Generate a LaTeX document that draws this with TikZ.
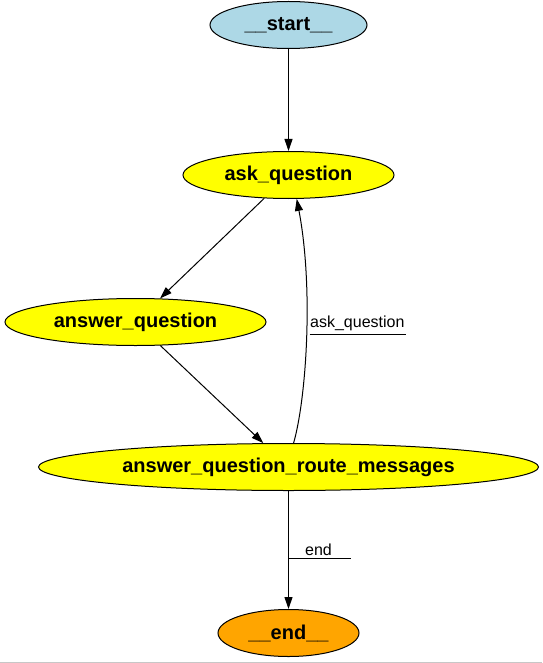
\documentclass[tikz,border=0pt]{standalone}
\usepackage{fontspec}
\setmainfont{Liberation Sans}
\usetikzlibrary{shapes.geometric,arrows.meta}
\definecolor{startblue}{HTML}{ADD8E6}
\definecolor{nodeyellow}{HTML}{FFFF00}
\definecolor{endorange}{HTML}{FFA500}
\begin{document}
\begin{tikzpicture}[x=1pt,y=-1pt,
  gnode/.style={ellipse,draw=black,line width=1pt,minimum height=47pt,inner sep=0pt,
    font=\fontsize{20}{23}\selectfont\bfseries},
  edge/.style={draw=black,line width=1pt,-{Triangle[length=12pt,width=8pt]}},
  elabel/.style={font=\fontsize{16}{19}\selectfont,inner sep=0pt}]
\useasboundingbox (0,0) rectangle (542,663);
\fill[white] (0,0) rectangle (542,663);
\draw[color=black!22,line width=1pt] (0,662.5) -- (542,662.5);

\node[gnode,fill=startblue,minimum width=157pt] (start) at (288.5,25) {\_\_start\_\_};
\node[gnode,fill=nodeyellow,minimum width=211pt] (ask) at (288.5,175) {ask\_question};
\node[gnode,fill=nodeyellow,minimum width=261pt] (answer) at (135.5,322) {answer\_question};
\node[gnode,fill=nodeyellow,minimum width=500pt] (route) at (288.5,467) {answer\_question\_route\_messages};
\node[gnode,fill=endorange,minimum width=141pt] (end) at (288.5,633) {\_\_end\_\_};

\draw[edge] (start) -- (ask);
\draw[edge] (ask) -- (answer);
\draw[edge] (answer) -- (route);
\draw[edge] (route.78) .. controls (306,400) and (314,290) .. (ask.-71);
\draw[edge] (route) -- (end);

\node[elabel,anchor=base west] (l1) at (310,327.5) {ask\_question};
\draw[line width=0.8pt] (l1.south west) ++(-0.5,3.5) -- ++(96,0);
\node[elabel,anchor=base west] (l2) at (305,555) {end};
\draw[line width=0.8pt] (288.5,558) -- (351,558);
\end{tikzpicture}
\end{document}
